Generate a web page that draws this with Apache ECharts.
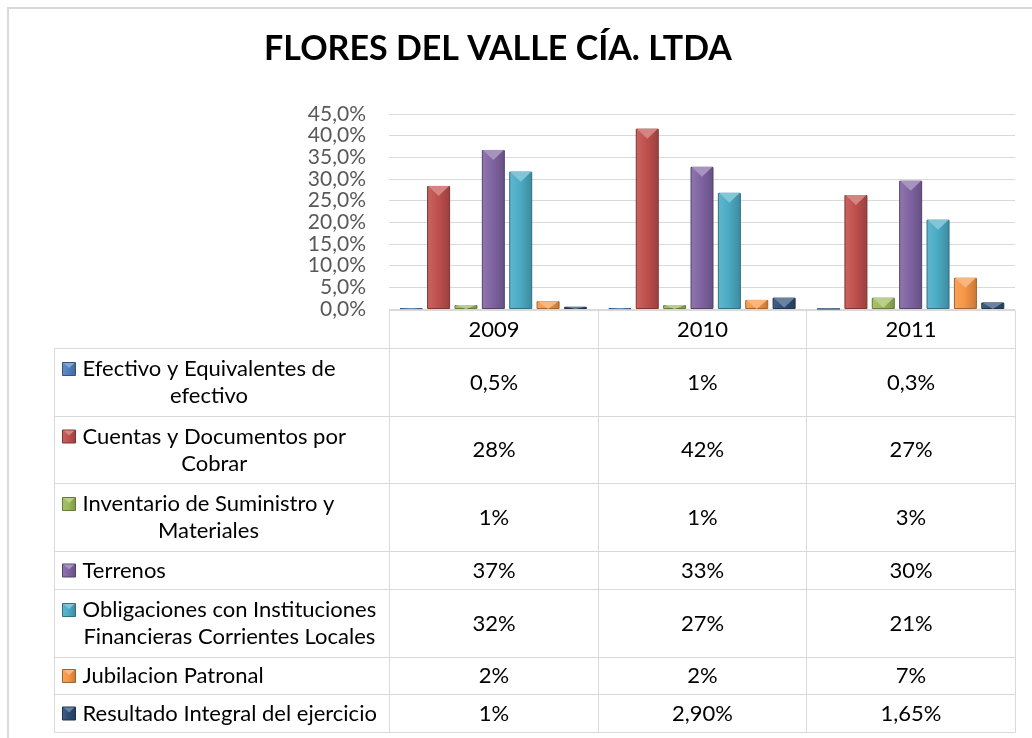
<!DOCTYPE html>
<html>
<head>
<meta charset="utf-8">
<script src="https://cdn.jsdelivr.net/npm/echarts@6/dist/echarts.min.js"></script>
<style>
  html, body { margin: 0; padding: 0; background: #fff; }
  #chart { width: 1032px; height: 738px; }
</style>
</head>
<body>
<div id="chart"></div>
<script>
// datos
const years = ['2009', '2010', '2011'];
const seriesNames = [
  'Efectivo y Equivalentes de\nefectivo',
  'Cuentas y Documentos por\nCobrar',
  'Inventario de Suministro y\nMateriales',
  'Terrenos',
  'Obligaciones con Instituciones\nFinancieras Corrientes Locales',
  'Jubilacion Patronal',
  'Resultado Integral del ejercicio'
];
// alturas de las barras (%)
const efectivo = [0.2, 0.2, 0.05];
const cuentas = [28.4, 41.6, 26.3];
const inventario = [0.9, 0.9, 2.6];
const terrenos = [36.7, 32.8, 29.6];
const obligaciones = [31.7, 26.8, 20.6];
const jubilacion = [1.8, 2.1, 7.2];
const resultado = [0.5, 2.6, 1.5];
const seriesValues = [efectivo, cuentas, inventario, terrenos, obligaciones, jubilacion, resultado];
// textos de la tabla de datos
const efectivoText = ['0,5%', '1%', '0,3%'];
const cuentasText = ['28%', '42%', '27%'];
const inventarioText = ['1%', '1%', '3%'];
const terrenosText = ['37%', '33%', '30%'];
const obligacionesText = ['32%', '27%', '21%'];
const jubilacionText = ['2%', '2%', '7%'];
const resultadoText = ['1%', '2,90%', '1,65%'];
const tableText = [efectivoText, cuentasText, inventarioText, terrenosText, obligacionesText, jubilacionText, resultadoText];
const yMin = 0, yMax = 45, yStep = 5;

const colors = ['#4f81bd', '#c0504d', '#9bbb59', '#8064a2', '#4bacc6', '#f79646', '#2c4d75'];
const FONT = 'Lato, "Open Sans", sans-serif';
const FS = 22;

// layout (px)
const plotLeft = 389, plotRight = 1015, plotTop = 114, baseY = 309;
const tableLeft = 54, tableTop = 310, tableBottom = 732;
const colW = (plotRight - plotLeft) / years.length;
const labelUnits = (plotLeft - tableLeft) / colW;
const lineH = 27;

const rowUnits = [1].concat(seriesNames.map(n => n.indexOf('\n') >= 0 ? 1.8 : 1));
const rowStart = [];
let acc = 0;
rowUnits.forEach(u => { rowStart.push(acc); acc += u; });
const totalUnits = acc;

const ctx = document.createElement('canvas').getContext('2d');
ctx.font = FS + 'px ' + FONT;
function textW(s) {
  return Math.max.apply(null, s.split('\n').map(l => ctx.measureText(l).width));
}

function shade(hex, amt) {
  const n = parseInt(hex.slice(1), 16);
  let r = n >> 16, g = (n >> 8) & 255, b = n & 255;
  const t = amt < 0 ? 0 : 255, p = Math.abs(amt);
  r = Math.round(r + (t - r) * p);
  g = Math.round(g + (t - g) * p);
  b = Math.round(b + (t - b) * p);
  return 'rgb(' + r + ',' + g + ',' + b + ')';
}
function barFill(c) {
  return new echarts.graphic.LinearGradient(0, 0, 1, 0, [
    { offset: 0, color: shade(c, 0.12) },
    { offset: 0.45, color: c },
    { offset: 1, color: shade(c, -0.2) }
  ]);
}

const pxPerUnit = (baseY - plotTop) / (yMax - yMin);

const series = [];
seriesValues.forEach((vals, i) => {
  series.push({
    type: 'bar',
    name: seriesNames[i].replace('\n', ' '),
    data: vals,
    barWidth: 23,
    barGap: '19%',
    xAxisIndex: 0,
    yAxisIndex: 0,
    itemStyle: { color: barFill(colors[i]), borderColor: shade(colors[i], -0.35), borderWidth: 1 }
  });
});
// bisel triangular arriba de cada barra
seriesValues.forEach((vals, i) => {
  series.push({
    type: 'pictorialBar',
    data: vals.map(v => ({ value: v, symbolSize: [21, Math.min(10, v * pxPerUnit)] })),
    symbol: 'triangle',
    symbolRotate: 180,
    symbolPosition: 'end',
    barWidth: 23,
    barGap: '19%',
    xAxisIndex: 0,
    yAxisIndex: 0,
    z: 3,
    silent: true,
    itemStyle: { color: shade(colors[i], 0.3) }
  });
});

// celdas de la tabla
const cells = [];
years.forEach((y, c) => cells.push([c, 0]));
seriesNames.forEach((n, r) => {
  cells.push([-1, r + 1]);
  years.forEach((y, c) => cells.push([c, r + 1]));
});

series.push({
  type: 'custom',
  coordinateSystem: 'cartesian2d',
  xAxisIndex: 1,
  yAxisIndex: 1,
  clip: false,
  silent: true,
  data: cells,
  renderItem: function (params, api) {
    const col = api.value(0), row = api.value(1);
    const x0 = col < 0 ? -labelUnits : col, x1 = col < 0 ? 0 : col + 1;
    const p0 = api.coord([x0, rowStart[row]]);
    const p1 = api.coord([x1, rowStart[row] + rowUnits[row]]);
    const left = Math.round(p0[0]) + 0.5, top = Math.round(p0[1]) + 0.5;
    const right = Math.round(p1[0]) + 0.5, bottom = Math.round(p1[1]) + 0.5;
    const cy = (top + bottom) / 2;
    const children = [{
      type: 'rect',
      shape: { x: left, y: top, width: right - left, height: bottom - top },
      style: { fill: 'none', stroke: '#d9d9d9', lineWidth: 1 }
    }];
    if (col < 0) {
      const i = row - 1;
      const label = seriesNames[i];
      const twoLines = label.indexOf('\n') >= 0;
      const my = twoLines ? cy - lineH / 2 : cy;
      const mx = left + 8;
      children.push({
        type: 'rect',
        shape: { x: mx, y: my - 6.5, width: 13, height: 13 },
        style: { fill: barFill(colors[i]), stroke: shade(colors[i], -0.35), lineWidth: 1 }
      });
      children.push({
        type: 'polygon',
        shape: { points: [[mx + 1, my - 6], [mx + 12, my - 6], [mx + 6.5, my - 1]] },
        style: { fill: shade(colors[i], 0.3) }
      });
      children.push({
        type: 'text',
        style: {
          text: label, x: left + 28 + textW(label) / 2, y: cy,
          align: 'center', verticalAlign: 'middle', lineHeight: lineH,
          fontSize: FS, fontFamily: FONT, fill: '#000'
        }
      });
    } else {
      const txt = row === 0 ? years[col] : tableText[row - 1][col];
      children.push({
        type: 'text',
        style: {
          text: txt, x: (left + right) / 2, y: cy,
          align: 'center', verticalAlign: 'middle',
          fontSize: FS, fontFamily: FONT, fill: '#000'
        }
      });
    }
    return { type: 'group', children: children };
  }
});

const chart = echarts.init(document.getElementById('chart'));
chart.setOption({
  animation: false,
  textStyle: { fontFamily: FONT },
  graphic: [
    {
      type: 'rect', silent: true, z: -10,
      shape: { x: 8, y: 8, width: 1100, height: 1000 },
      style: { fill: 'none', stroke: '#d9d9d9', lineWidth: 2 }
    },
    {
      type: 'text', x: 498, y: 49,
      style: {
        text: 'FLORES DEL VALLE CÍA. LTDA', align: 'center', verticalAlign: 'middle',
        fontSize: 34, fontWeight: 'bold', fontFamily: FONT, fill: '#000'
      }
    }
  ],
  grid: [
    { left: plotLeft, width: plotRight - plotLeft, top: plotTop, height: baseY - plotTop, containLabel: false },
    { left: tableLeft, width: plotRight - tableLeft, top: tableTop, height: tableBottom - tableTop, containLabel: false }
  ],
  xAxis: [
    {
      type: 'category', gridIndex: 0, data: years,
      axisLine: { show: false }, axisTick: { show: false }, axisLabel: { show: false }
    },
    { type: 'value', gridIndex: 1, min: -labelUnits, max: years.length, show: false }
  ],
  yAxis: [
    {
      type: 'value', gridIndex: 0, min: yMin, max: yMax, interval: yStep,
      axisLine: { show: false }, axisTick: { show: false },
      splitLine: { lineStyle: { color: '#d9d9d9', width: 1 } },
      axisLabel: {
        color: '#595959', fontSize: 21, fontFamily: FONT, margin: 23,
        showMinLabel: true, showMaxLabel: true,
        formatter: v => v.toFixed(1).replace('.', ',') + '%'
      }
    },
    { type: 'value', gridIndex: 1, min: 0, max: totalUnits, inverse: true, show: false }
  ],
  series: series
});
</script>
</body>
</html>
